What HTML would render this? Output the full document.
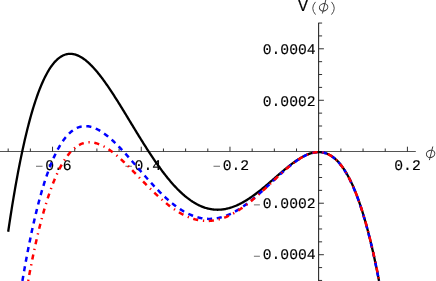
<!DOCTYPE html>
<html><head><meta charset="utf-8"><title>V(phi)</title>
<style>
html,body{margin:0;padding:0;background:#fff;}
body{width:436px;height:281px;overflow:hidden;}
svg{display:block;will-change:transform;opacity:0.999;}
.n{text-rendering:geometricPrecision;font-family:"Liberation Mono",monospace;font-size:14.7px;fill:#000;stroke:#000;stroke-width:0.15px;}
.h{fill:none;stroke:none;}
.V{font-family:"Liberation Sans",sans-serif;font-size:15.8px;fill:#000;stroke:#000;stroke-width:0.2px;}
</style></head><body>
<svg width="436" height="281" viewBox="0 0 436 281">
<rect width="436" height="281" fill="#fff"/>
<line x1="0" y1="151.5" x2="415.8" y2="151.5" stroke="#555" stroke-width="1"/>
<line x1="318.60" y1="22.8" x2="318.60" y2="281" stroke="#2a2a2a" stroke-width="1.1"/>
<line x1="8.18" y1="151.5" x2="8.18" y2="148.5" stroke="#262626" stroke-width="0.95"/>
<line x1="30.36" y1="151.5" x2="30.36" y2="148.5" stroke="#262626" stroke-width="0.95"/>
<line x1="52.54" y1="151.5" x2="52.54" y2="146.7" stroke="#262626" stroke-width="0.95"/>
<line x1="74.72" y1="151.5" x2="74.72" y2="148.5" stroke="#262626" stroke-width="0.95"/>
<line x1="96.90" y1="151.5" x2="96.90" y2="148.5" stroke="#262626" stroke-width="0.95"/>
<line x1="119.08" y1="151.5" x2="119.08" y2="148.5" stroke="#262626" stroke-width="0.95"/>
<line x1="141.26" y1="151.5" x2="141.26" y2="146.7" stroke="#262626" stroke-width="0.95"/>
<line x1="163.44" y1="151.5" x2="163.44" y2="148.5" stroke="#262626" stroke-width="0.95"/>
<line x1="185.62" y1="151.5" x2="185.62" y2="148.5" stroke="#262626" stroke-width="0.95"/>
<line x1="207.80" y1="151.5" x2="207.80" y2="148.5" stroke="#262626" stroke-width="0.95"/>
<line x1="229.98" y1="151.5" x2="229.98" y2="146.7" stroke="#262626" stroke-width="0.95"/>
<line x1="252.16" y1="151.5" x2="252.16" y2="148.5" stroke="#262626" stroke-width="0.95"/>
<line x1="274.34" y1="151.5" x2="274.34" y2="148.5" stroke="#262626" stroke-width="0.95"/>
<line x1="296.52" y1="151.5" x2="296.52" y2="148.5" stroke="#262626" stroke-width="0.95"/>
<line x1="340.88" y1="151.5" x2="340.88" y2="148.5" stroke="#262626" stroke-width="0.95"/>
<line x1="363.06" y1="151.5" x2="363.06" y2="148.5" stroke="#262626" stroke-width="0.95"/>
<line x1="385.24" y1="151.5" x2="385.24" y2="148.5" stroke="#262626" stroke-width="0.95"/>
<line x1="407.42" y1="151.5" x2="407.42" y2="146.7" stroke="#262626" stroke-width="0.95"/>
<line x1="318.7" y1="280.45" x2="322.10" y2="280.45" stroke="#262626" stroke-width="0.95"/>
<line x1="318.7" y1="267.58" x2="322.10" y2="267.58" stroke="#262626" stroke-width="0.95"/>
<line x1="318.7" y1="254.71" x2="323.90" y2="254.71" stroke="#262626" stroke-width="0.95"/>
<line x1="318.7" y1="241.84" x2="322.10" y2="241.84" stroke="#262626" stroke-width="0.95"/>
<line x1="318.7" y1="228.97" x2="322.10" y2="228.97" stroke="#262626" stroke-width="0.95"/>
<line x1="318.7" y1="216.10" x2="322.10" y2="216.10" stroke="#262626" stroke-width="0.95"/>
<line x1="318.7" y1="203.23" x2="323.90" y2="203.23" stroke="#262626" stroke-width="0.95"/>
<line x1="318.7" y1="190.36" x2="322.10" y2="190.36" stroke="#262626" stroke-width="0.95"/>
<line x1="318.7" y1="177.49" x2="322.10" y2="177.49" stroke="#262626" stroke-width="0.95"/>
<line x1="318.7" y1="164.62" x2="322.10" y2="164.62" stroke="#262626" stroke-width="0.95"/>
<line x1="318.7" y1="138.88" x2="322.10" y2="138.88" stroke="#262626" stroke-width="0.95"/>
<line x1="318.7" y1="126.01" x2="322.10" y2="126.01" stroke="#262626" stroke-width="0.95"/>
<line x1="318.7" y1="113.14" x2="322.10" y2="113.14" stroke="#262626" stroke-width="0.95"/>
<line x1="318.7" y1="100.27" x2="323.90" y2="100.27" stroke="#262626" stroke-width="0.95"/>
<line x1="318.7" y1="87.40" x2="322.10" y2="87.40" stroke="#262626" stroke-width="0.95"/>
<line x1="318.7" y1="74.53" x2="322.10" y2="74.53" stroke="#262626" stroke-width="0.95"/>
<line x1="318.7" y1="61.66" x2="322.10" y2="61.66" stroke="#262626" stroke-width="0.95"/>
<line x1="318.7" y1="48.79" x2="323.90" y2="48.79" stroke="#262626" stroke-width="0.95"/>
<line x1="318.7" y1="35.92" x2="322.10" y2="35.92" stroke="#262626" stroke-width="0.95"/>
<line x1="318.7" y1="23.05" x2="322.10" y2="23.05" stroke="#262626" stroke-width="0.95"/>
<text x="315.6" y="54.36" text-anchor="end" class="n">0.0004</text>
<text x="315.6" y="105.96" text-anchor="end" class="n">0.0002</text>
<text x="315.6" y="208.46" text-anchor="end" class="n"><tspan class="h">&#8722;</tspan>0.0002</text>
<line x1="253.9" y1="204.83" x2="259.9" y2="204.83" stroke="#8c8c8c" stroke-width="1.25"/>
<text x="315.6" y="259.46" text-anchor="end" class="n"><tspan class="h">&#8722;</tspan>0.0004</text>
<line x1="253.9" y1="256.31" x2="259.9" y2="256.31" stroke="#8c8c8c" stroke-width="1.25"/>
<text x="71.66" y="170.3" text-anchor="end" class="n"><tspan class="h">&#8722;</tspan>0.6</text>
<line x1="36.00" y1="166.25" x2="42.50" y2="166.25" stroke="#444" stroke-width="0.8"/>
<text x="161.06" y="170.3" text-anchor="end" class="n"><tspan class="h">&#8722;</tspan>0.4</text>
<line x1="125.40" y1="166.25" x2="131.90" y2="166.25" stroke="#444" stroke-width="0.8"/>
<text x="249.16" y="170.3" text-anchor="end" class="n"><tspan class="h">&#8722;</tspan>0.2</text>
<line x1="213.50" y1="166.25" x2="220.00" y2="166.25" stroke="#444" stroke-width="0.8"/>
<text x="420.76" y="170.3" text-anchor="end" class="n">0.2</text>
<text x="297.7" y="11.4" class="V">V</text>
<path d="M315.5 1.9 Q310.0 8.2 315.5 14.6" stroke="#484848" stroke-width="1" fill="none"/>
<path d="M331.5 1.9 Q337.0 8.2 331.5 14.6" stroke="#484848" stroke-width="1" fill="none"/>
<g stroke="#333" stroke-width="0.95" fill="none"><title>&#981;</title><ellipse cx="323.6" cy="7.3" rx="4.3" ry="3.6" transform="rotate(-20 323.6 7.3)"/><line x1="325.80" y1="-0.10" x2="322.40" y2="13.50"/></g>
<g stroke="#333" stroke-width="0.95" fill="none"><title>&#981;</title><ellipse cx="430.6" cy="153.9" rx="4.3" ry="3.6" transform="rotate(-20 430.6 153.9)"/><line x1="432.80" y1="146.50" x2="429.40" y2="160.10"/></g>
<path d="M8.18 231.78 L8.29 231.02 L8.96 226.53 L9.62 222.12 L10.29 217.78 L10.95 213.51 L11.62 209.31 L12.28 205.18 L12.95 201.12 L13.62 197.13 L14.28 193.21 L14.95 189.35 L15.61 185.57 L16.28 181.85 L16.94 178.19 L17.61 174.60 L18.27 171.08 L18.94 167.62 L19.61 164.23 L20.27 160.90 L20.94 157.63 L21.60 154.42 L22.27 151.28 L22.93 148.19 L23.60 145.17 L24.27 142.21 L24.93 139.31 L25.60 136.46 L26.26 133.68 L26.93 130.95 L27.59 128.28 L28.26 125.66 L28.92 123.11 L29.59 120.60 L30.26 118.16 L30.92 115.77 L31.59 113.43 L32.25 111.14 L32.92 108.91 L33.58 106.74 L34.25 104.61 L34.91 102.54 L35.58 100.51 L36.25 98.54 L36.91 96.62 L37.58 94.74 L38.24 92.92 L38.91 91.14 L39.57 89.42 L40.24 87.74 L40.91 86.10 L41.57 84.52 L42.24 82.98 L42.90 81.48 L43.57 80.03 L44.23 78.63 L44.90 77.27 L45.56 75.95 L46.23 74.68 L46.90 73.45 L47.56 72.26 L48.23 71.11 L48.89 70.01 L49.56 68.94 L50.22 67.92 L50.89 66.94 L51.55 65.99 L52.22 65.09 L52.89 64.22 L53.55 63.39 L54.22 62.60 L54.88 61.85 L55.55 61.13 L56.21 60.45 L56.88 59.81 L57.55 59.20 L58.21 58.62 L58.88 58.09 L59.54 57.58 L60.21 57.11 L60.87 56.67 L61.54 56.27 L62.20 55.89 L62.87 55.55 L63.54 55.25 L64.20 54.97 L64.87 54.72 L65.53 54.51 L66.20 54.32 L66.86 54.16 L67.53 54.04 L68.19 53.94 L68.86 53.87 L69.53 53.83 L70.19 53.81 L70.86 53.82 L71.52 53.86 L72.19 53.93 L72.85 54.02 L73.52 54.14 L74.18 54.28 L74.85 54.45 L75.52 54.64 L76.18 54.86 L76.85 55.10 L77.51 55.36 L78.18 55.65 L78.84 55.96 L79.51 56.29 L80.18 56.64 L80.84 57.01 L81.51 57.41 L82.17 57.83 L82.84 58.26 L83.50 58.72 L84.17 59.20 L84.83 59.69 L85.50 60.21 L86.17 60.74 L86.83 61.29 L87.50 61.86 L88.16 62.45 L88.83 63.06 L89.49 63.68 L90.16 64.32 L90.82 64.97 L91.49 65.64 L92.16 66.33 L92.82 67.03 L93.49 67.75 L94.15 68.48 L94.82 69.23 L95.48 69.99 L96.15 70.76 L96.82 71.55 L97.48 72.35 L98.15 73.16 L98.81 73.98 L99.48 74.82 L100.14 75.67 L100.81 76.53 L101.47 77.40 L102.14 78.29 L102.81 79.18 L103.47 80.08 L104.14 81.00 L104.80 81.92 L105.47 82.85 L106.13 83.80 L106.80 84.75 L107.46 85.71 L108.13 86.68 L108.80 87.65 L109.46 88.64 L110.13 89.63 L110.79 90.63 L111.46 91.63 L112.12 92.64 L112.79 93.66 L113.46 94.69 L114.12 95.72 L114.79 96.76 L115.45 97.80 L116.12 98.84 L116.78 99.90 L117.45 100.95 L118.11 102.01 L118.78 103.08 L119.45 104.15 L120.11 105.22 L120.78 106.30 L121.44 107.37 L122.11 108.46 L122.77 109.54 L123.44 110.63 L124.10 111.72 L124.77 112.81 L125.44 113.90 L126.10 115.00 L126.77 116.09 L127.43 117.19 L128.10 118.29 L128.76 119.38 L129.43 120.48 L130.09 121.58 L130.76 122.68 L131.43 123.78 L132.09 124.88 L132.76 125.97 L133.42 127.07 L134.09 128.17 L134.75 129.26 L135.42 130.35 L136.09 131.44 L136.75 132.53 L137.42 133.62 L138.08 134.71 L138.75 135.79 L139.41 136.87 L140.08 137.94 L140.74 139.02 L141.41 140.09 L142.08 141.16 L142.74 142.22 L143.41 143.28 L144.07 144.34 L144.74 145.39 L145.40 146.44 L146.07 147.48 L146.73 148.52 L147.40 149.56 L148.07 150.59 L148.73 151.61 L149.40 152.63 L150.06 153.64 L150.73 154.65 L151.39 155.65 L152.06 156.65 L152.73 157.64 L153.39 158.63 L154.06 159.61 L154.72 160.58 L155.39 161.54 L156.05 162.50 L156.72 163.46 L157.38 164.40 L158.05 165.34 L158.72 166.27 L159.38 167.19 L160.05 168.11 L160.71 169.02 L161.38 169.92 L162.04 170.81 L162.71 171.70 L163.37 172.57 L164.04 173.44 L164.71 174.30 L165.37 175.16 L166.04 176.00 L166.70 176.83 L167.37 177.66 L168.03 178.48 L168.70 179.29 L169.37 180.08 L170.03 180.88 L170.70 181.66 L171.36 182.43 L172.03 183.19 L172.69 183.94 L173.36 184.69 L174.02 185.42 L174.69 186.14 L175.36 186.86 L176.02 187.56 L176.69 188.25 L177.35 188.94 L178.02 189.61 L178.68 190.27 L179.35 190.93 L180.01 191.57 L180.68 192.20 L181.35 192.82 L182.01 193.43 L182.68 194.03 L183.34 194.62 L184.01 195.20 L184.67 195.77 L185.34 196.33 L186.01 196.87 L186.67 197.41 L187.34 197.93 L188.00 198.45 L188.67 198.95 L189.33 199.44 L190.00 199.92 L190.66 200.39 L191.33 200.84 L192.00 201.29 L192.66 201.73 L193.33 202.15 L193.99 202.56 L194.66 202.96 L195.32 203.35 L195.99 203.73 L196.65 204.09 L197.32 204.45 L197.99 204.79 L198.65 205.12 L199.32 205.44 L199.98 205.75 L200.65 206.05 L201.31 206.33 L201.98 206.61 L202.64 206.87 L203.31 207.12 L203.98 207.36 L204.64 207.59 L205.31 207.80 L205.97 208.01 L206.64 208.20 L207.30 208.38 L207.97 208.55 L208.64 208.71 L209.30 208.86 L209.97 208.99 L210.63 209.12 L211.30 209.23 L211.96 209.33 L212.63 209.42 L213.29 209.50 L213.96 209.57 L214.63 209.62 L215.29 209.67 L215.96 209.70 L216.62 209.72 L217.29 209.73 L217.95 209.73 L218.62 209.72 L219.28 209.70 L219.95 209.67 L220.62 209.62 L221.28 209.57 L221.95 209.50 L222.61 209.42 L223.28 209.34 L223.94 209.24 L224.61 209.13 L225.28 209.01 L225.94 208.88 L226.61 208.74 L227.27 208.59 L227.94 208.43 L228.60 208.26 L229.27 208.08 L229.93 207.89 L230.60 207.69 L231.27 207.48 L231.93 207.26 L232.60 207.03 L233.26 206.79 L233.93 206.54 L234.59 206.29 L235.26 206.02 L235.92 205.74 L236.59 205.46 L237.26 205.16 L237.92 204.86 L238.59 204.55 L239.25 204.23 L239.92 203.90 L240.58 203.56 L241.25 203.21 L241.92 202.86 L242.58 202.49 L243.25 202.12 L243.91 201.74 L244.58 201.36 L245.24 200.96 L245.91 200.56 L246.57 200.15 L247.24 199.74 L247.91 199.31 L248.57 198.88 L249.24 198.44 L249.90 198.00 L250.57 197.55 L251.23 197.09 L251.90 196.63 L252.56 196.16 L253.23 195.68 L253.90 195.20 L254.56 194.71 L255.23 194.22 L255.89 193.72 L256.56 193.22 L257.22 192.71 L257.89 192.19 L258.55 191.68 L259.22 191.15 L259.89 190.63 L260.55 190.09 L261.22 189.56 L261.88 189.02 L262.55 188.47 L263.21 187.93 L263.88 187.38 L264.55 186.82 L265.21 186.27 L265.88 185.71 L266.54 185.15 L267.21 184.58 L267.87 184.01 L268.54 183.45 L269.20 182.87 L269.87 182.30 L270.54 181.73 L271.20 181.15 L271.87 180.58 L272.53 180.00 L273.20 179.42 L273.86 178.84 L274.53 178.27 L275.19 177.69 L275.86 177.11 L276.53 176.53 L277.19 175.95 L277.86 175.38 L278.52 174.80 L279.19 174.23 L279.85 173.66 L280.52 173.09 L281.19 172.52 L281.85 171.95 L282.52 171.39 L283.18 170.83 L283.85 170.27 L284.51 169.71 L285.18 169.16 L285.84 168.62 L286.51 168.07 L287.18 167.53 L287.84 167.00 L288.51 166.47 L289.17 165.94 L289.84 165.42 L290.50 164.91 L291.17 164.40 L291.83 163.90 L292.50 163.40 L293.17 162.91 L293.83 162.43 L294.50 161.95 L295.16 161.49 L295.83 161.03 L296.49 160.57 L297.16 160.13 L297.83 159.69 L298.49 159.27 L299.16 158.85 L299.82 158.44 L300.49 158.04 L301.15 157.65 L301.82 157.28 L302.48 156.91 L303.15 156.55 L303.82 156.21 L304.48 155.87 L305.15 155.55 L305.81 155.24 L306.48 154.95 L307.14 154.66 L307.81 154.39 L308.47 154.13 L309.14 153.89 L309.81 153.66 L310.47 153.44 L311.14 153.24 L311.80 153.06 L312.47 152.88 L313.13 152.73 L313.80 152.59 L314.46 152.47 L315.13 152.36 L315.80 152.28 L316.46 152.21 L317.13 152.15 L317.79 152.12 L318.46 152.10 L319.12 152.10 L319.79 152.13 L320.46 152.17 L321.12 152.23 L321.79 152.31 L322.45 152.41 L323.12 152.54 L323.78 152.68 L324.45 152.85 L325.11 153.04 L325.78 153.25 L326.45 153.48 L327.11 153.74 L327.78 154.02 L328.44 154.33 L329.11 154.66 L329.77 155.01 L330.44 155.39 L331.10 155.80 L331.77 156.23 L332.44 156.69 L333.10 157.17 L333.77 157.69 L334.43 158.23 L335.10 158.80 L335.76 159.39 L336.43 160.02 L337.10 160.67 L337.76 161.36 L338.43 162.07 L339.09 162.82 L339.76 163.60 L340.42 164.40 L341.09 165.24 L341.75 166.12 L342.42 167.02 L343.09 167.96 L343.75 168.93 L344.42 169.94 L345.08 170.98 L345.75 172.05 L346.41 173.17 L347.08 174.31 L347.74 175.50 L348.41 176.72 L349.08 177.97 L349.74 179.27 L350.41 180.60 L351.07 181.97 L351.74 183.38 L352.40 184.83 L353.07 186.33 L353.74 187.86 L354.40 189.43 L355.07 191.04 L355.73 192.70 L356.40 194.40 L357.06 196.14 L357.73 197.92 L358.39 199.75 L359.06 201.62 L359.73 203.54 L360.39 205.50 L361.06 207.51 L361.72 209.57 L362.39 211.67 L363.05 213.82 L363.72 216.02 L364.38 218.26 L365.05 220.56 L365.72 222.90 L366.38 225.30 L367.05 227.74 L367.71 230.24 L368.38 232.78 L369.04 235.38 L369.71 238.04 L370.38 240.74 L371.04 243.50 L371.71 246.31 L372.37 249.18 L373.04 252.11 L373.70 255.09 L374.37 258.12 L375.03 261.21 L375.70 264.37 L376.37 267.57 L377.03 270.84 L377.70 274.17 L378.36 277.55 L379.01 280.90" fill="none" stroke="#000" stroke-width="2.3"/>
<path d="M22.40 280.90 L22.49 280.38 L23.16 276.48 L23.82 272.64 L24.49 268.86 L25.15 265.15 L25.82 261.50 L26.48 257.91 L27.15 254.39 L27.82 250.92 L28.48 247.51 L29.15 244.17 L29.81 240.88 L30.48 237.65 L31.14 234.48 L31.81 231.36 L32.47 228.31 L33.14 225.31 L33.81 222.36 L34.47 219.47 L35.14 216.64 L35.80 213.86 L36.47 211.13 L37.13 208.46 L37.80 205.84 L38.46 203.27 L39.13 200.76 L39.80 198.29 L40.46 195.88 L41.13 193.52 L41.79 191.20 L42.46 188.94 L43.12 186.73 L43.79 184.56 L44.45 182.44 L45.12 180.37 L45.79 178.35 L46.45 176.37 L47.12 174.44 L47.78 172.55 L48.45 170.71 L49.11 168.92 L49.78 167.17 L50.45 165.46 L51.11 163.80 L51.78 162.18 L52.44 160.60 L53.11 159.06 L53.77 157.56 L54.44 156.11 L55.10 154.70 L55.77 153.32 L56.44 151.99 L57.10 150.69 L57.77 149.44 L58.43 148.22 L59.10 147.04 L59.76 145.90 L60.43 144.79 L61.09 143.72 L61.76 142.69 L62.43 141.69 L63.09 140.73 L63.76 139.80 L64.42 138.91 L65.09 138.05 L65.75 137.23 L66.42 136.44 L67.09 135.68 L67.75 134.95 L68.42 134.26 L69.08 133.60 L69.75 132.96 L70.41 132.36 L71.08 131.79 L71.74 131.25 L72.41 130.74 L73.08 130.26 L73.74 129.81 L74.41 129.38 L75.07 128.99 L75.74 128.62 L76.40 128.28 L77.07 127.96 L77.73 127.67 L78.40 127.41 L79.07 127.17 L79.73 126.96 L80.40 126.78 L81.06 126.61 L81.73 126.48 L82.39 126.36 L83.06 126.27 L83.73 126.20 L84.39 126.16 L85.06 126.14 L85.72 126.14 L86.39 126.16 L87.05 126.20 L87.72 126.26 L88.38 126.35 L89.05 126.45 L89.72 126.57 L90.38 126.72 L91.05 126.88 L91.71 127.06 L92.38 127.26 L93.04 127.48 L93.71 127.72 L94.37 127.97 L95.04 128.24 L95.71 128.53 L96.37 128.83 L97.04 129.15 L97.70 129.49 L98.37 129.84 L99.03 130.21 L99.70 130.59 L100.37 130.99 L101.03 131.40 L101.70 131.82 L102.36 132.26 L103.03 132.71 L103.69 133.18 L104.36 133.65 L105.02 134.14 L105.69 134.64 L106.36 135.16 L107.02 135.68 L107.69 136.22 L108.35 136.77 L109.02 137.33 L109.68 137.89 L110.35 138.47 L111.01 139.06 L111.68 139.66 L112.35 140.27 L113.01 140.88 L113.68 141.51 L114.34 142.14 L115.01 142.78 L115.67 143.43 L116.34 144.09 L117.00 144.75 L117.67 145.42 L118.34 146.10 L119.00 146.79 L119.67 147.48 L120.33 148.17 L121.00 148.88 L121.66 149.58 L122.33 150.30 L123.00 151.02 L123.66 151.74 L124.33 152.47 L124.99 153.20 L125.66 153.94 L126.32 154.68 L126.99 155.42 L127.65 156.17 L128.32 156.92 L128.99 157.67 L129.65 158.42 L130.32 159.18 L130.98 159.94 L131.65 160.70 L132.31 161.47 L132.98 162.23 L133.64 163.00 L134.31 163.77 L134.98 164.54 L135.64 165.31 L136.31 166.08 L136.97 166.85 L137.64 167.62 L138.30 168.39 L138.97 169.16 L139.64 169.93 L140.30 170.69 L140.97 171.46 L141.63 172.23 L142.30 172.99 L142.96 173.76 L143.63 174.52 L144.29 175.28 L144.96 176.04 L145.63 176.79 L146.29 177.54 L146.96 178.29 L147.62 179.04 L148.29 179.79 L148.95 180.53 L149.62 181.27 L150.28 182.00 L150.95 182.73 L151.62 183.46 L152.28 184.18 L152.95 184.90 L153.61 185.62 L154.28 186.33 L154.94 187.04 L155.61 187.74 L156.28 188.44 L156.94 189.13 L157.61 189.81 L158.27 190.49 L158.94 191.17 L159.60 191.84 L160.27 192.51 L160.93 193.16 L161.60 193.82 L162.27 194.46 L162.93 195.10 L163.60 195.74 L164.26 196.37 L164.93 196.99 L165.59 197.60 L166.26 198.21 L166.92 198.81 L167.59 199.40 L168.26 199.99 L168.92 200.57 L169.59 201.14 L170.25 201.70 L170.92 202.26 L171.58 202.80 L172.25 203.35 L172.91 203.88 L173.58 204.40 L174.25 204.92 L174.91 205.43 L175.58 205.93 L176.24 206.42 L176.91 206.90 L177.57 207.38 L178.24 207.84 L178.91 208.30 L179.57 208.75 L180.24 209.19 L180.90 209.62 L181.57 210.04 L182.23 210.45 L182.90 210.85 L183.56 211.25 L184.23 211.63 L184.90 212.01 L185.56 212.37 L186.23 212.73 L186.89 213.07 L187.56 213.41 L188.22 213.74 L188.89 214.06 L189.55 214.36 L190.22 214.66 L190.89 214.95 L191.55 215.23 L192.22 215.50 L192.88 215.75 L193.55 216.00 L194.21 216.24 L194.88 216.47 L195.55 216.69 L196.21 216.90 L196.88 217.09 L197.54 217.28 L198.21 217.46 L198.87 217.63 L199.54 217.78 L200.20 217.93 L200.87 218.07 L201.54 218.19 L202.20 218.31 L202.87 218.41 L203.53 218.51 L204.20 218.59 L204.86 218.67 L205.53 218.73 L206.19 218.79 L206.86 218.83 L207.53 218.86 L208.19 218.89 L208.86 218.90 L209.52 218.90 L210.19 218.89 L210.85 218.87 L211.52 218.85 L212.19 218.81 L212.85 218.76 L213.52 218.70 L214.18 218.63 L214.85 218.55 L215.51 218.46 L216.18 218.36 L216.84 218.25 L217.51 218.13 L218.18 218.00 L218.84 217.87 L219.51 217.72 L220.17 217.56 L220.84 217.39 L221.50 217.21 L222.17 217.02 L222.83 216.82 L223.50 216.62 L224.17 216.40 L224.83 216.17 L225.50 215.94 L226.16 215.69 L226.83 215.44 L227.49 215.17 L228.16 214.90 L228.82 214.62 L229.49 214.33 L230.16 214.03 L230.82 213.72 L231.49 213.40 L232.15 213.08 L232.82 212.74 L233.48 212.40 L234.15 212.05 L234.82 211.69 L235.48 211.32 L236.15 210.94 L236.81 210.56 L237.48 210.17 L238.14 209.77 L238.81 209.36 L239.47 208.94 L240.14 208.52 L240.81 208.09 L241.47 207.65 L242.14 207.20 L242.80 206.75 L243.47 206.29 L244.13 205.83 L244.80 205.35 L245.46 204.87 L246.13 204.39 L246.80 203.89 L247.46 203.40 L248.13 202.89 L248.79 202.38 L249.46 201.86 L250.12 201.34 L250.79 200.81 L251.46 200.28 L252.12 199.74 L252.79 199.19 L253.45 198.64 L254.12 198.09 L254.78 197.53 L255.45 196.97 L256.11 196.40 L256.78 195.83 L257.45 195.25 L258.11 194.67 L258.78 194.08 L259.44 193.50 L260.11 192.90 L260.77 192.31 L261.44 191.71 L262.10 191.11 L262.77 190.51 L263.44 189.90 L264.10 189.29 L264.77 188.68 L265.43 188.07 L266.10 187.45 L266.76 186.83 L267.43 186.22 L268.10 185.60 L268.76 184.98 L269.43 184.35 L270.09 183.73 L270.76 183.11 L271.42 182.48 L272.09 181.86 L272.75 181.24 L273.42 180.61 L274.09 179.99 L274.75 179.37 L275.42 178.75 L276.08 178.13 L276.75 177.51 L277.41 176.89 L278.08 176.27 L278.74 175.66 L279.41 175.05 L280.08 174.44 L280.74 173.83 L281.41 173.23 L282.07 172.63 L282.74 172.03 L283.40 171.44 L284.07 170.85 L284.74 170.27 L285.40 169.68 L286.07 169.11 L286.73 168.54 L287.40 167.97 L288.06 167.41 L288.73 166.85 L289.39 166.30 L290.06 165.76 L290.73 165.22 L291.39 164.69 L292.06 164.16 L292.72 163.65 L293.39 163.14 L294.05 162.64 L294.72 162.14 L295.38 161.66 L296.05 161.18 L296.72 160.71 L297.38 160.25 L298.05 159.80 L298.71 159.36 L299.38 158.93 L300.04 158.51 L300.71 158.10 L301.37 157.70 L302.04 157.31 L302.71 156.93 L303.37 156.57 L304.04 156.22 L304.70 155.87 L305.37 155.55 L306.03 155.23 L306.70 154.93 L307.37 154.64 L308.03 154.36 L308.70 154.10 L309.36 153.86 L310.03 153.62 L310.69 153.41 L311.36 153.21 L312.02 153.02 L312.69 152.85 L313.36 152.70 L314.02 152.56 L314.69 152.44 L315.35 152.34 L316.02 152.25 L316.68 152.19 L317.35 152.14 L318.01 152.11 L318.68 152.10 L319.35 152.11 L320.01 152.14 L320.68 152.19 L321.34 152.26 L322.01 152.35 L322.67 152.46 L323.34 152.59 L324.01 152.75 L324.67 152.92 L325.34 153.12 L326.00 153.35 L326.67 153.59 L327.33 153.86 L328.00 154.16 L328.66 154.48 L329.33 154.82 L330.00 155.19 L330.66 155.58 L331.33 156.01 L331.99 156.45 L332.66 156.93 L333.32 157.43 L333.99 157.96 L334.65 158.51 L335.32 159.10 L335.99 159.71 L336.65 160.35 L337.32 161.03 L337.98 161.73 L338.65 162.46 L339.31 163.23 L339.98 164.02 L340.65 164.85 L341.31 165.71 L341.98 166.60 L342.64 167.52 L343.31 168.48 L343.97 169.47 L344.64 170.50 L345.30 171.56 L345.97 172.65 L346.64 173.78 L347.30 174.95 L347.97 176.15 L348.63 177.39 L349.30 178.66 L349.96 179.98 L350.63 181.33 L351.29 182.72 L351.96 184.15 L352.63 185.62 L353.29 187.13 L353.96 188.68 L354.62 190.27 L355.29 191.90 L355.95 193.57 L356.62 195.29 L357.28 197.05 L357.95 198.85 L358.62 200.69 L359.28 202.58 L359.95 204.51 L360.61 206.49 L361.28 208.52 L361.94 210.59 L362.61 212.70 L363.28 214.86 L363.94 217.07 L364.61 219.33 L365.27 221.64 L365.94 223.99 L366.60 226.40 L367.27 228.85 L367.93 231.36 L368.60 233.92 L369.27 236.52 L369.93 239.18 L370.60 241.89 L371.26 244.66 L371.93 247.48 L372.59 250.35 L373.26 253.27 L373.92 256.25 L374.59 259.29 L375.26 262.38 L375.92 265.53 L376.59 268.74 L377.25 272.00 L377.92 275.32 L378.58 278.70 L379.01 280.90" fill="none" stroke="#0000ff" stroke-width="2.5" stroke-dasharray="5.1 4.65"/>
<path d="M28.14 280.90 L28.15 280.88 L28.81 277.28 L29.48 273.74 L30.14 270.26 L30.81 266.83 L31.48 263.47 L32.14 260.17 L32.81 256.92 L33.47 253.73 L34.14 250.60 L34.80 247.53 L35.47 244.51 L36.14 241.54 L36.80 238.64 L37.47 235.78 L38.13 232.98 L38.80 230.23 L39.46 227.54 L40.13 224.90 L40.79 222.31 L41.46 219.77 L42.13 217.28 L42.79 214.85 L43.46 212.46 L44.12 210.12 L44.79 207.83 L45.45 205.59 L46.12 203.40 L46.78 201.26 L47.45 199.16 L48.12 197.11 L48.78 195.10 L49.45 193.14 L50.11 191.23 L50.78 189.36 L51.44 187.53 L52.11 185.75 L52.77 184.01 L53.44 182.32 L54.11 180.66 L54.77 179.05 L55.44 177.48 L56.10 175.95 L56.77 174.46 L57.43 173.02 L58.10 171.61 L58.77 170.24 L59.43 168.91 L60.10 167.61 L60.76 166.36 L61.43 165.14 L62.09 163.96 L62.76 162.81 L63.42 161.71 L64.09 160.63 L64.76 159.60 L65.42 158.59 L66.09 157.63 L66.75 156.69 L67.42 155.79 L68.08 154.92 L68.75 154.09 L69.41 153.29 L70.08 152.52 L70.75 151.78 L71.41 151.07 L72.08 150.39 L72.74 149.75 L73.41 149.13 L74.07 148.54 L74.74 147.98 L75.41 147.45 L76.07 146.95 L76.74 146.48 L77.40 146.03 L78.07 145.61 L78.73 145.22 L79.40 144.85 L80.06 144.51 L80.73 144.20 L81.40 143.91 L82.06 143.65 L82.73 143.41 L83.39 143.19 L84.06 143.00 L84.72 142.83 L85.39 142.68 L86.05 142.56 L86.72 142.46 L87.39 142.38 L88.05 142.32 L88.72 142.29 L89.38 142.27 L90.05 142.28 L90.71 142.30 L91.38 142.35 L92.05 142.41 L92.71 142.49 L93.38 142.60 L94.04 142.72 L94.71 142.85 L95.37 143.01 L96.04 143.18 L96.70 143.38 L97.37 143.58 L98.04 143.81 L98.70 144.05 L99.37 144.30 L100.03 144.57 L100.70 144.86 L101.36 145.16 L102.03 145.48 L102.69 145.81 L103.36 146.15 L104.03 146.51 L104.69 146.88 L105.36 147.26 L106.02 147.66 L106.69 148.07 L107.35 148.49 L108.02 148.92 L108.68 149.37 L109.35 149.82 L110.02 150.29 L110.68 150.76 L111.35 151.25 L112.01 151.75 L112.68 152.26 L113.34 152.77 L114.01 153.30 L114.68 153.83 L115.34 154.37 L116.01 154.93 L116.67 155.49 L117.34 156.05 L118.00 156.63 L118.67 157.21 L119.33 157.80 L120.00 158.39 L120.67 159.00 L121.33 159.60 L122.00 160.22 L122.66 160.84 L123.33 161.47 L123.99 162.10 L124.66 162.73 L125.32 163.37 L125.99 164.02 L126.66 164.67 L127.32 165.32 L127.99 165.98 L128.65 166.64 L129.32 167.31 L129.98 167.97 L130.65 168.64 L131.32 169.32 L131.98 169.99 L132.65 170.67 L133.31 171.35 L133.98 172.03 L134.64 172.71 L135.31 173.40 L135.97 174.08 L136.64 174.77 L137.31 175.46 L137.97 176.14 L138.64 176.83 L139.30 177.52 L139.97 178.21 L140.63 178.89 L141.30 179.58 L141.96 180.27 L142.63 180.95 L143.30 181.64 L143.96 182.32 L144.63 183.00 L145.29 183.68 L145.96 184.36 L146.62 185.03 L147.29 185.71 L147.96 186.38 L148.62 187.05 L149.29 187.71 L149.95 188.38 L150.62 189.04 L151.28 189.69 L151.95 190.35 L152.61 191.00 L153.28 191.65 L153.95 192.29 L154.61 192.93 L155.28 193.56 L155.94 194.19 L156.61 194.82 L157.27 195.44 L157.94 196.05 L158.60 196.67 L159.27 197.27 L159.94 197.87 L160.60 198.47 L161.27 199.06 L161.93 199.64 L162.60 200.22 L163.26 200.80 L163.93 201.36 L164.60 201.93 L165.26 202.48 L165.93 203.03 L166.59 203.57 L167.26 204.11 L167.92 204.64 L168.59 205.16 L169.25 205.67 L169.92 206.18 L170.59 206.68 L171.25 207.18 L171.92 207.66 L172.58 208.14 L173.25 208.61 L173.91 209.08 L174.58 209.53 L175.24 209.98 L175.91 210.42 L176.58 210.85 L177.24 211.28 L177.91 211.70 L178.57 212.10 L179.24 212.50 L179.90 212.89 L180.57 213.28 L181.23 213.65 L181.90 214.01 L182.57 214.37 L183.23 214.72 L183.90 215.06 L184.56 215.39 L185.23 215.71 L185.89 216.02 L186.56 216.32 L187.23 216.62 L187.89 216.90 L188.56 217.18 L189.22 217.44 L189.89 217.70 L190.55 217.95 L191.22 218.18 L191.88 218.41 L192.55 218.63 L193.22 218.84 L193.88 219.04 L194.55 219.23 L195.21 219.41 L195.88 219.58 L196.54 219.74 L197.21 219.89 L197.87 220.03 L198.54 220.16 L199.21 220.28 L199.87 220.39 L200.54 220.49 L201.20 220.58 L201.87 220.67 L202.53 220.74 L203.20 220.80 L203.87 220.85 L204.53 220.89 L205.20 220.92 L205.86 220.95 L206.53 220.96 L207.19 220.96 L207.86 220.95 L208.52 220.93 L209.19 220.91 L209.86 220.87 L210.52 220.82 L211.19 220.76 L211.85 220.70 L212.52 220.62 L213.18 220.53 L213.85 220.44 L214.51 220.33 L215.18 220.21 L215.85 220.09 L216.51 219.95 L217.18 219.81 L217.84 219.65 L218.51 219.49 L219.17 219.31 L219.84 219.13 L220.51 218.93 L221.17 218.73 L221.84 218.52 L222.50 218.30 L223.17 218.07 L223.83 217.83 L224.50 217.58 L225.16 217.32 L225.83 217.06 L226.50 216.78 L227.16 216.50 L227.83 216.20 L228.49 215.90 L229.16 215.59 L229.82 215.27 L230.49 214.94 L231.15 214.60 L231.82 214.26 L232.49 213.90 L233.15 213.54 L233.82 213.17 L234.48 212.79 L235.15 212.41 L235.81 212.02 L236.48 211.61 L237.14 211.20 L237.81 210.79 L238.48 210.36 L239.14 209.93 L239.81 209.49 L240.47 209.05 L241.14 208.59 L241.80 208.13 L242.47 207.66 L243.14 207.19 L243.80 206.71 L244.47 206.22 L245.13 205.73 L245.80 205.23 L246.46 204.72 L247.13 204.21 L247.79 203.69 L248.46 203.17 L249.13 202.64 L249.79 202.10 L250.46 201.56 L251.12 201.01 L251.79 200.46 L252.45 199.91 L253.12 199.35 L253.78 198.78 L254.45 198.21 L255.12 197.64 L255.78 197.06 L256.45 196.47 L257.11 195.89 L257.78 195.30 L258.44 194.70 L259.11 194.10 L259.78 193.50 L260.44 192.90 L261.11 192.29 L261.77 191.68 L262.44 191.07 L263.10 190.45 L263.77 189.84 L264.43 189.22 L265.10 188.60 L265.77 187.97 L266.43 187.35 L267.10 186.72 L267.76 186.09 L268.43 185.47 L269.09 184.84 L269.76 184.21 L270.42 183.58 L271.09 182.95 L271.76 182.31 L272.42 181.68 L273.09 181.05 L273.75 180.42 L274.42 179.80 L275.08 179.17 L275.75 178.54 L276.42 177.92 L277.08 177.29 L277.75 176.67 L278.41 176.05 L279.08 175.43 L279.74 174.82 L280.41 174.21 L281.07 173.60 L281.74 172.99 L282.41 172.39 L283.07 171.79 L283.74 171.19 L284.40 170.60 L285.07 170.02 L285.73 169.43 L286.40 168.86 L287.06 168.28 L287.73 167.72 L288.40 167.16 L289.06 166.60 L289.73 166.05 L290.39 165.51 L291.06 164.97 L291.72 164.44 L292.39 163.92 L293.05 163.40 L293.72 162.90 L294.39 162.40 L295.05 161.91 L295.72 161.42 L296.38 160.95 L297.05 160.48 L297.71 160.03 L298.38 159.58 L299.05 159.14 L299.71 158.72 L300.38 158.30 L301.04 157.90 L301.71 157.50 L302.37 157.12 L303.04 156.75 L303.70 156.39 L304.37 156.04 L305.04 155.71 L305.70 155.38 L306.37 155.08 L307.03 154.78 L307.70 154.50 L308.36 154.23 L309.03 153.98 L309.69 153.74 L310.36 153.51 L311.03 153.30 L311.69 153.11 L312.36 152.93 L313.02 152.77 L313.69 152.63 L314.35 152.50 L315.02 152.39 L315.69 152.29 L316.35 152.22 L317.02 152.16 L317.68 152.12 L318.35 152.10 L319.01 152.10 L319.68 152.12 L320.34 152.16 L321.01 152.22 L321.68 152.30 L322.34 152.40 L323.01 152.52 L323.67 152.67 L324.34 152.83 L325.00 153.02 L325.67 153.23 L326.33 153.46 L327.00 153.72 L327.67 154.00 L328.33 154.31 L329.00 154.64 L329.66 154.99 L330.33 155.37 L330.99 155.78 L331.66 156.21 L332.33 156.67 L332.99 157.16 L333.66 157.67 L334.32 158.21 L334.99 158.78 L335.65 159.37 L336.32 160.00 L336.98 160.65 L337.65 161.34 L338.32 162.05 L338.98 162.80 L339.65 163.57 L340.31 164.38 L340.98 165.22 L341.64 166.09 L342.31 166.99 L342.97 167.93 L343.64 168.90 L344.31 169.90 L344.97 170.94 L345.64 172.01 L346.30 173.11 L346.97 174.26 L347.63 175.43 L348.30 176.65 L348.97 177.90 L349.63 179.19 L350.30 180.51 L350.96 181.87 L351.63 183.27 L352.29 184.72 L352.96 186.20 L353.62 187.71 L354.29 189.27 L354.96 190.87 L355.62 192.52 L356.29 194.20 L356.95 195.92 L357.62 197.69 L358.28 199.50 L358.95 201.36 L359.61 203.25 L360.28 205.20 L360.95 207.18 L361.61 209.22 L362.28 211.29 L362.94 213.42 L363.61 215.59 L364.27 217.81 L364.94 220.07 L365.60 222.39 L366.27 224.75 L366.94 227.16 L367.60 229.62 L368.27 232.13 L368.93 234.69 L369.60 237.31 L370.26 239.97 L370.93 242.69 L371.60 245.46 L372.26 248.28 L372.93 251.16 L373.59 254.09 L374.26 257.07 L374.92 260.11 L375.59 263.20 L376.25 266.36 L376.92 269.56 L377.59 272.83 L378.25 276.15 L378.92 279.53 L379.18 280.90" fill="none" stroke="#ff0000" stroke-width="2.5" stroke-dasharray="1.3 4.6 5.15 4.73"/>
</svg>
</body></html>
